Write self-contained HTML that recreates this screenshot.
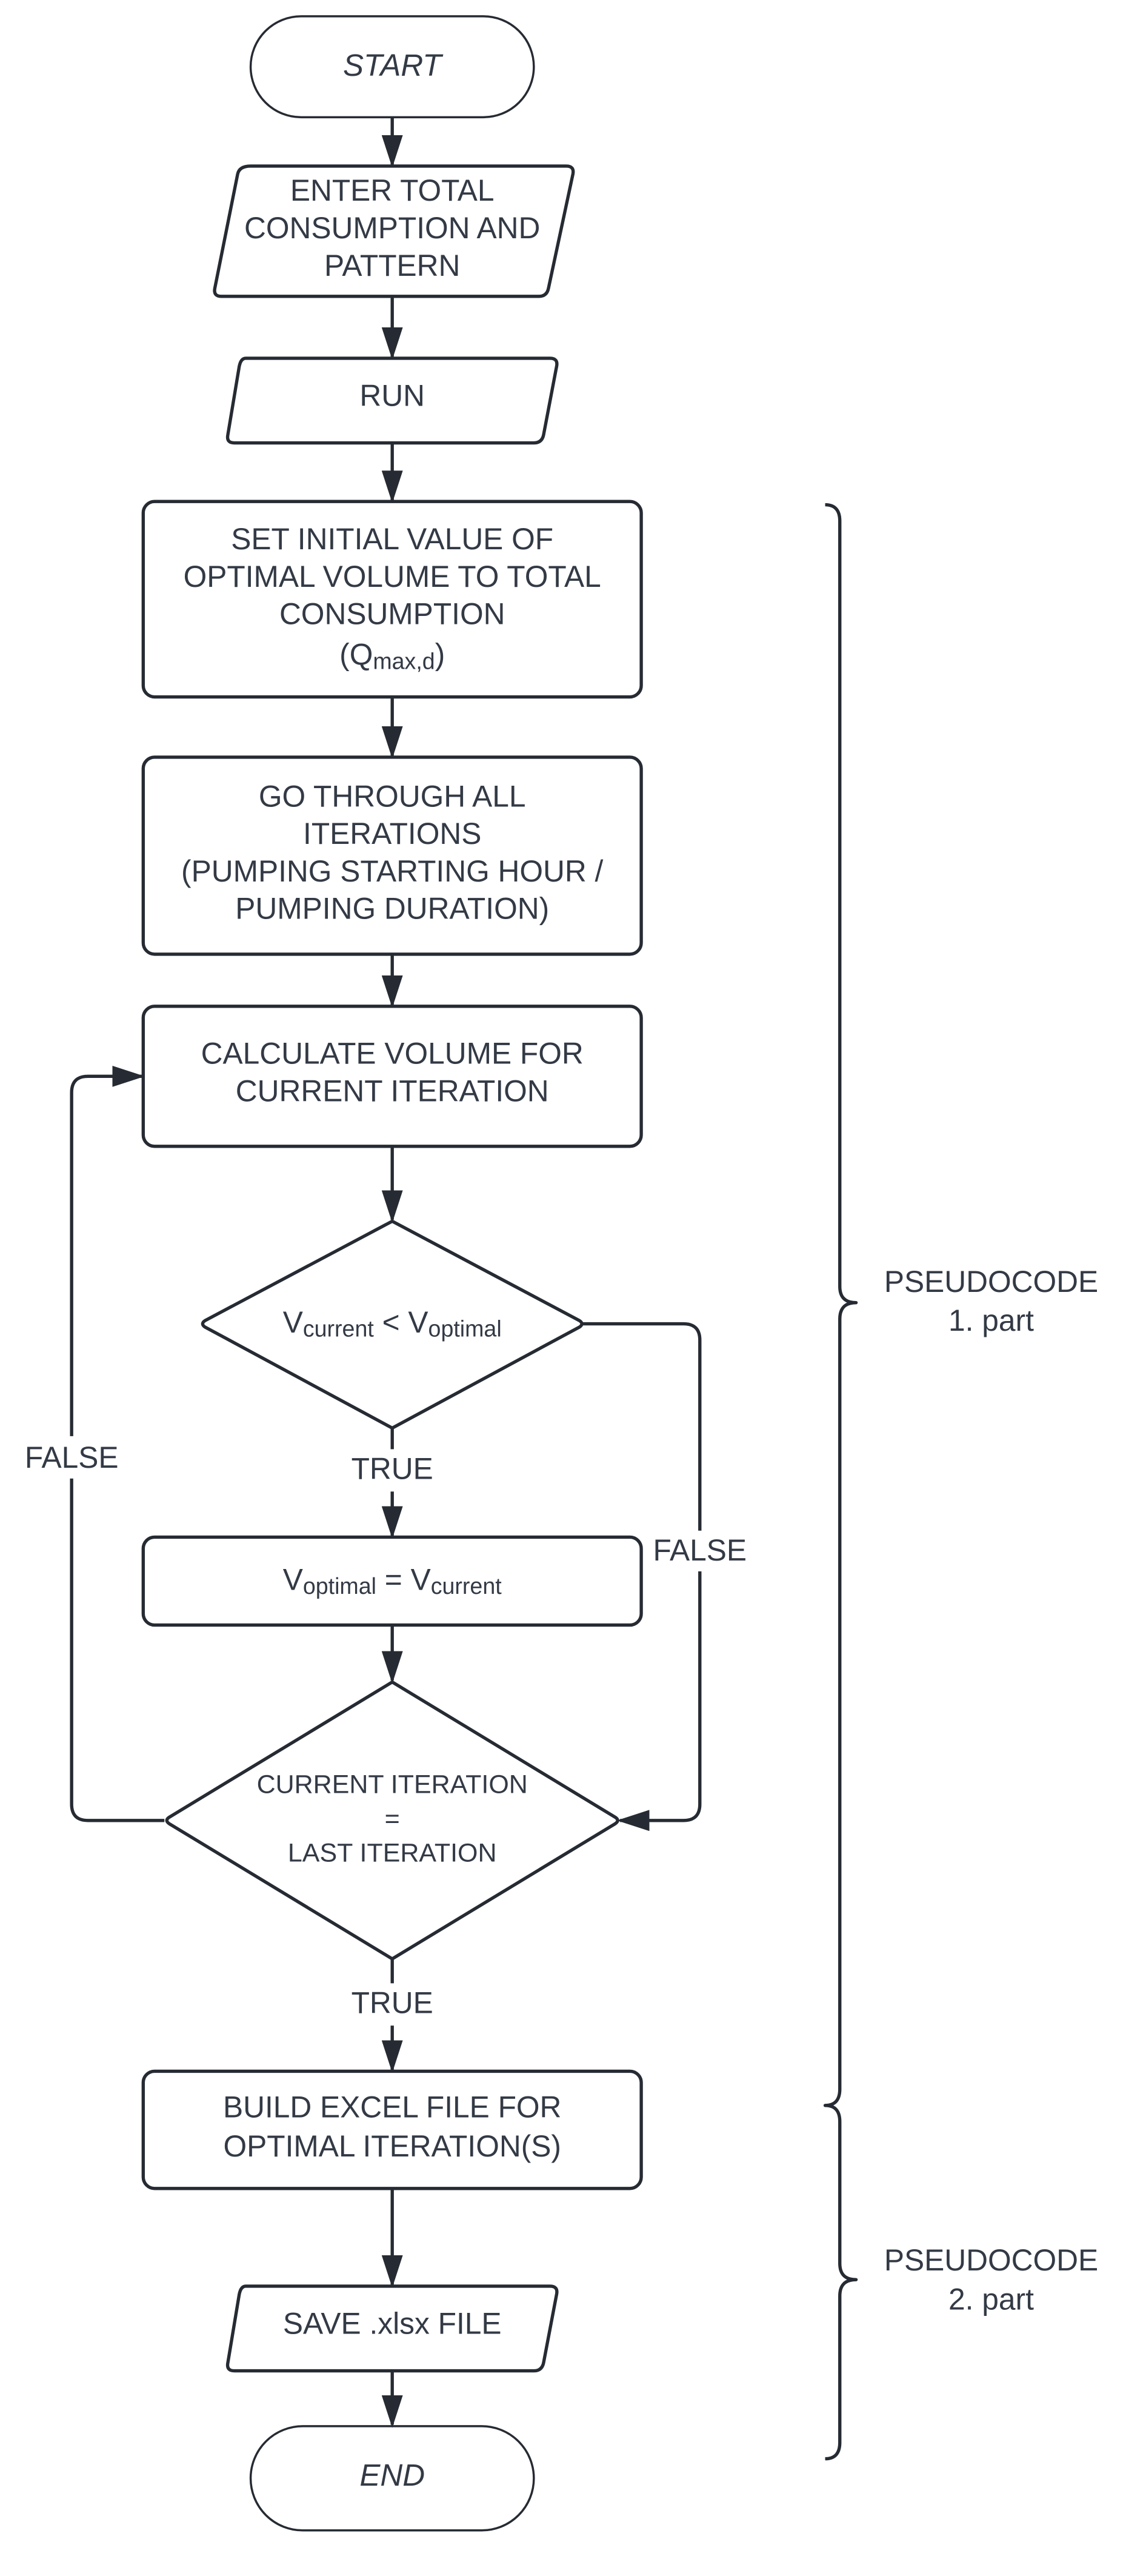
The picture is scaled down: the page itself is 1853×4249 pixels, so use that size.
<!DOCTYPE html>
<html><head><meta charset="utf-8"><style>
html,body{margin:0;padding:0;background:#fff;}
svg{display:block;}
text{font-family:"Liberation Sans",sans-serif;fill:#333a45;}
</style></head><body>
<svg width="1853" height="4249" viewBox="0 0 690 1582" preserveAspectRatio="none" xmlns="http://www.w3.org/2000/svg">
<defs>
<marker id="a" markerWidth="20" markerHeight="13" refX="18" refY="6.5" orient="auto" markerUnits="userSpaceOnUse">
<path d="M0,0 L20,6.5 L0,13 z" fill="#262b33"/>
</marker>
</defs>
<g fill="none" stroke="#262b33" stroke-width="2" stroke-linejoin="round">
<rect x="154" y="10" width="174" height="62" rx="31" stroke-width="1.3"/>
<path d="M154,102 L348,102 Q353,102 352,107 L337,177 Q336,182 331,182 L136,182 Q131,182 132,177 L146,107 Q147,102 154,102 Z"/>
<path d="M151,220 L338,220 Q343,220 342,225 L334,267 Q333,272 328,272 L144,272 Q139,272 140,267 L147,225 Q148,220 151,220 Z"/>
<rect x="88" y="308" width="306" height="120" rx="7"/>
<rect x="88" y="465" width="306" height="121" rx="7"/>
<rect x="88" y="618" width="306" height="86" rx="7"/>
<path d="M241,750 L356,811 Q359,813 356,815 L241,877 L126,815 Q123,813 126,811 Z"/>
<rect x="88" y="944" width="306" height="54" rx="7"/>
<path d="M241,1033 L378,1116 Q381,1118 378,1120 L241,1203 L104,1120 Q101,1118 104,1116 Z"/>
<rect x="88" y="1272" width="306" height="72" rx="7"/>
<path d="M151,1404 L338,1404 Q343,1404 342,1409 L334,1451 Q333,1456 328,1456 L144,1456 Q139,1456 140,1451 L147,1409 Q148,1404 151,1404 Z"/>
<rect x="154" y="1490" width="174" height="64" rx="32" stroke-width="1.3"/>
<path d="M241,72 V101" marker-end="url(#a)"/>
<path d="M241,182 V219" marker-end="url(#a)"/>
<path d="M241,272 V307" marker-end="url(#a)"/>
<path d="M241,428 V464" marker-end="url(#a)"/>
<path d="M241,586 V617" marker-end="url(#a)"/>
<path d="M241,704 V749" marker-end="url(#a)"/>
<path d="M241,877 V890"/>
<path d="M241,916 V943" marker-end="url(#a)"/>
<path d="M241,998 V1032" marker-end="url(#a)"/>
<path d="M241,1203 V1218"/>
<path d="M241,1244 V1271" marker-end="url(#a)"/>
<path d="M241,1344 V1403" marker-end="url(#a)"/>
<path d="M241,1456 V1489" marker-end="url(#a)"/>
<path d="M101,1118 H54 Q44,1118 44,1108 V908"/>
<path d="M44,882 V671 Q44,661 54,661 H87" marker-end="url(#a)"/>
<path d="M358,813 H420 Q430,813 430,823 V940"/>
<path d="M430,965 V1108 Q430,1118 420,1118 H381" marker-end="url(#a)"/>
<path d="M507,310 Q516,310 516,320 V790 Q516,800 526,800 Q516,800 516,810 V1283 Q516,1293 507,1293 Q516,1293 516,1303 V1390 Q516,1400 526,1400 Q516,1400 516,1410 V1500 Q516,1510 507,1510"/>
</g>
<g text-anchor="middle" dominant-baseline="central" font-size="18.5">
<text x="241" y="40" font-style="italic" font-size="19">START</text>
<text x="241" y="117">ENTER TOTAL</text>
<text x="241" y="140">CONSUMPTION AND</text>
<text x="241" y="163">PATTERN</text>
<text x="241" y="243">RUN</text>
<text x="241" y="331">SET INITIAL VALUE OF</text>
<text x="241" y="354">OPTIMAL VOLUME TO TOTAL</text>
<text x="241" y="377">CONSUMPTION</text>
<text x="241" y="402">(Q<tspan font-size="14" dy="4">max,d</tspan><tspan dy="-4">)</tspan></text>
<text x="241" y="489">GO THROUGH ALL</text>
<text x="241" y="512">ITERATIONS</text>
<text x="241" y="535">(PUMPING STARTING HOUR /</text>
<text x="241" y="558">PUMPING DURATION)</text>
<text x="241" y="647">CALCULATE VOLUME FOR</text>
<text x="241" y="670">CURRENT ITERATION</text>
<text x="241" y="812">V<tspan font-size="14" dy="4">current</tspan><tspan dy="-4"> &lt; V</tspan><tspan font-size="14" dy="4">optimal</tspan></text>
<text x="241" y="902">TRUE</text>
<text x="241" y="970">V<tspan font-size="14" dy="4">optimal</tspan><tspan dy="-4">  = V</tspan><tspan font-size="14" dy="4">current</tspan></text>
<text x="241" y="1096" font-size="16">CURRENT ITERATION</text>
<text x="241" y="1117" font-size="16">=</text>
<text x="241" y="1138" font-size="16">LAST ITERATION</text>
<text x="241" y="1230">TRUE</text>
<text x="241" y="1294">BUILD EXCEL FILE FOR</text>
<text x="241" y="1318">OPTIMAL ITERATION(S)</text>
<text x="241" y="1427">SAVE .xlsx FILE</text>
<text x="241" y="1520" font-style="italic" font-size="19">END</text>
<text x="44" y="895">FALSE</text>
<text x="430" y="952">FALSE</text>
<text x="609" y="787">PSEUDOCODE</text>
<text x="609" y="811">1. part</text>
<text x="609" y="1388">PSEUDOCODE</text>
<text x="609" y="1412">2. part</text>
</g>
</svg>
</body></html>
